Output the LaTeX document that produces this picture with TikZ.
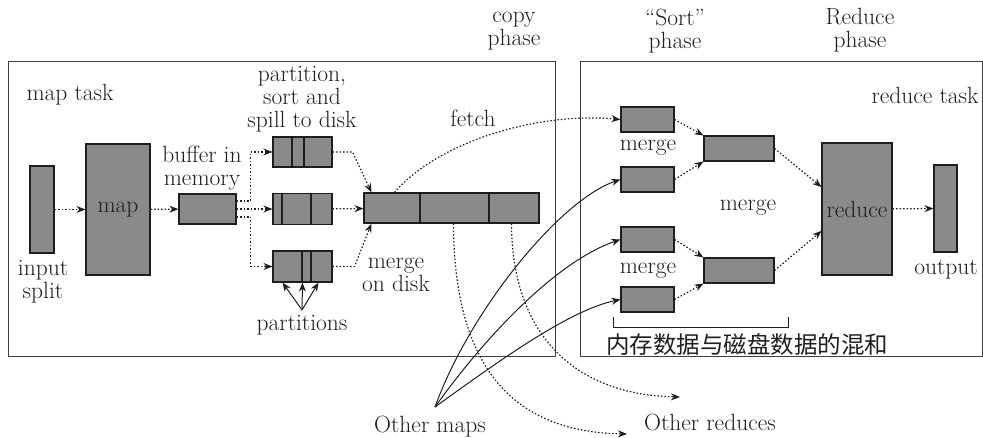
\documentclass[tikz,border=0pt]{standalone}
\usepackage{fontspec}
\newfontfamily\cjk{Noto Sans CJK SC}
\usetikzlibrary{arrows.meta}
\definecolor{blkgray}{RGB}{138,138,138}
\definecolor{inkgray}{RGB}{30,30,30}

\begin{document}
\begin{tikzpicture}[
    x=1pt, y=-1pt,
    blk/.style={
        rectangle,
        draw=inkgray,
        fill=blkgray,
        line width=1.1pt,
        inner sep=0pt,
        text=inkgray,
        font=\fontsize{23.5}{23}\selectfont
    },
    lbl/.style={
        inner sep=0pt,
        align=center,
        text=inkgray,
        font=\fontsize{23.5}{23}\selectfont
    },
    flow/.style={
        -{Stealth[length=9pt,width=7pt]},
        draw=inkgray,
        line width=1.2pt,
        dash pattern=on 1.5pt off 2pt
    },
    feed/.style={
        -{Stealth[length=9pt,width=7pt]},
        draw=inkgray,
        line width=1pt
    },
    task/.style={draw=inkgray!85, line width=1pt}
]
\useasboundingbox (0,0) rectangle (983,438);

\draw[task] (8,62) rectangle (555,357);
\draw[task] (580,62) rectangle (982,357);

\node[blk, minimum width=24pt, minimum height=87pt] (split) at (42,209.5) {};
\node[blk, minimum width=64pt, minimum height=131pt] (map) at (118,209.5) {map};
\node[blk, minimum width=57pt, minimum height=30pt] (buf) at (207.5,209) {};
\node[blk, minimum width=59pt, minimum height=30pt] (partA) at (302.5,152) {};
\node[blk, minimum width=59pt, minimum height=31pt] (partB) at (302.5,209) {};
\node[blk, minimum width=59pt, minimum height=31pt] (partC) at (302.5,266.5) {};
\node[blk, minimum width=175pt, minimum height=30pt] (disk) at (451.5,208) {};
\foreach \p/\d in {partA/-10.5, partA/1.5, partB/-20.5, partB/8.5, partC/-0.5, partC/8.5, disk/-31.5, disk/37.5}
    \draw[inkgray, line width=1.1pt] ([xshift=\d pt]\p.north) -- ([xshift=\d pt]\p.south);

\node[blk, minimum width=53pt, minimum height=25pt] (m1) at (647.5,119.5) {};
\node[blk, minimum width=53pt, minimum height=25pt] (m2) at (647.5,179.5) {};
\node[blk, minimum width=53pt, minimum height=25pt] (m3) at (647.5,239.5) {};
\node[blk, minimum width=53pt, minimum height=25pt] (m4) at (647.5,299.5) {};
\node[blk, minimum width=70pt, minimum height=25pt] (mu) at (739,148.5) {};
\node[blk, minimum width=70pt, minimum height=25pt] (ml) at (739,270.5) {};
\node[blk, minimum width=70pt, minimum height=132pt] (red) at (857,209) {reduce};
\node[blk, minimum width=23pt, minimum height=87pt] (out) at (945.5,208.5) {};

\node[lbl] (maptask) at (70,95) {map task};
\node[lbl] (splitlbl) at (43,282) {input\\split};
\node[lbl] (buflbl) at (202,168) {buffer in\\memory};
\node[lbl] (spill) at (302,99) {partition,\\sort and\\spill to disk};
\node[lbl] (fetch) at (473,118) {fetch};
\node[lbl] (mdisk) at (396,275) {merge\\on disk};
\node[lbl] (parts) at (302,325) {partitions};
\node[lbl] (copy) at (514,31) {copy\\phase};
\node[lbl] (sort) at (675,31) {``Sort''\\phase};
\node[lbl] (redph) at (860,30) {Reduce\\phase};
\node[lbl] (redtask) at (925,95) {reduce task};
\node[lbl] (mg1) at (648,148) {merge};
\node[lbl] (mg2) at (648,271) {merge};
\node[lbl] (mg3) at (748,208) {merge};
\node[lbl] (outlbl) at (946,270) {output};
\node[lbl, font=\cjk\fontsize{23.5}{24}\selectfont] (mix) at (747,344) {内存数据与磁盘数据的混和};
\node[lbl] (omaps) at (430,427) {Other maps};
\node[lbl] (oreds) at (710,422) {Other reduces};

\coordinate (om) at (435,407);
\coordinate (pt) at (302,310);
\coordinate (or1) at (627,434);
\coordinate (or2) at (680,397);

\draw[flow] (split) -- (map);
\draw[flow] (map) -- (buf);
\draw[flow] ([yshift=8pt]buf.east) -- ++(14,0) |- (partA.west);
\draw[flow] (buf) -- (partB);
\draw[flow] ([yshift=-8pt]buf.east) -- ++(14,0) |- (partC.west);
\draw[flow] (partA.east) -- ++(20,0) -- ([xshift=8pt]disk.north west);
\draw[flow] (partB) -- (disk);
\draw[flow] (partC.east) -- ++(22,0) -- ([xshift=8pt]disk.south west);

\foreach \d in {-20,0,16}
    \draw[feed] (pt) -- ([xshift=\d pt]partC.south);

\draw[flow] ([xshift=31pt]disk.north west) .. controls (440,140) and (540,112) .. (m1.west);
\draw[flow] ([xshift=90pt]disk.south west) .. controls (454,370) and (515,432) .. (or1);
\draw[flow] ([xshift=148pt]disk.south west) .. controls (512,340) and (580,395) .. (or2);

\draw[feed] (om) .. controls (470,310) and (560,200) .. (m2.west);
\draw[feed] (om) .. controls (490,330) and (560,260) .. (m3.west);
\draw[feed] (om) .. controls (500,360) and (570,310) .. (m4.west);

\draw[flow] (m1.east) -- (mu.north west);
\draw[flow] (m2.east) -- (mu.south west);
\draw[flow] (m3.east) -- (ml.north west);
\draw[flow] (m4.east) -- (ml.south west);
\draw[flow] (mu.east) -- ([yshift=22pt]red.west);
\draw[flow] (ml.east) -- ([yshift=-22pt]red.west);
\draw[flow] (red) -- (out);

\draw[inkgray, line width=1pt] (613,317) -- (613,328) -- (788,328) -- (788,317);

\end{tikzpicture}
\end{document}
